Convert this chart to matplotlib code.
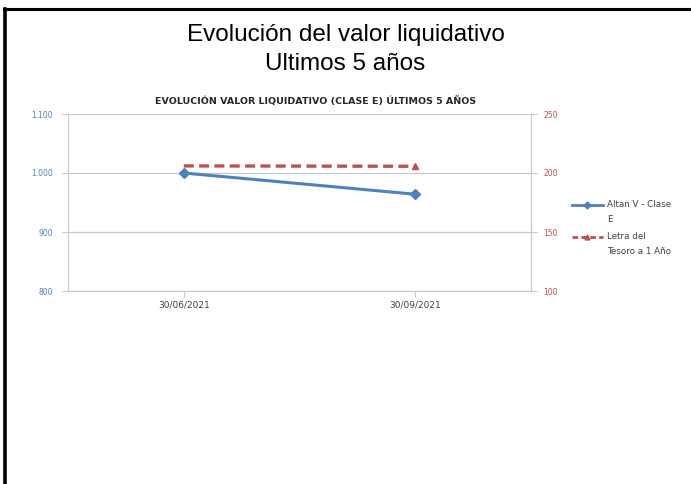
import matplotlib
matplotlib.use("Agg")
import matplotlib.pyplot as plt
from matplotlib.lines import Line2D

# datos
fechas = ["30/06/2021", "30/09/2021"]
altan_clase_e = [1000, 964]
letra_tesoro = [206, 205.7]
ticks_izq = [800, 900, 1000, 1100]
etiquetas_izq = ["800", "900", "1.000", "1.100"]
ticks_der = [100, 150, 200, 250]
series = ["Altan V - Clase\nE", "Letra del\nTesoro a 1 Año"]

AZUL = "#4F81BD"
ROJO = "#C0504D"
GRID = "#C8C8C8"
TXT = "#404040"
W, H = 691, 484

fig = plt.figure(figsize=(6.91, 4.84), dpi=100)

# marco negro (solo arriba e izquierda)
fig.add_artist(Line2D([4 / W, 1], [1 - 8.5 / H] * 2, color="black", lw=2.2,
                      transform=fig.transFigure))
fig.add_artist(Line2D([5 / W] * 2, [0, 1 - 8.5 / H], color="black", lw=2.6,
                      transform=fig.transFigure))

fig.text(0.5, 1 - 41 / H, "Evolución del valor liquidativo", ha="center", va="baseline",
         fontsize=17.5, family="Liberation Sans")
fig.text(0.5, 1 - 70 / H, "Ultimos 5 años", ha="center", va="baseline",
         fontsize=17.5, family="Liberation Sans")

ax = fig.add_axes([68 / W, 1 - 291 / H, 463 / W, 177 / H])
x = list(range(len(fechas)))
ax.plot(x, altan_clase_e, color=AZUL, lw=2.2, marker="D", ms=5.5, zorder=3)
ax.set_xlim(-0.5, len(fechas) - 0.5)
ax.set_ylim(800, 1100)
ax.set_yticks(ticks_izq)
ax.set_yticklabels(etiquetas_izq)
ax.set_xticks(x)
ax.set_xticklabels(fechas)
ax.grid(axis="y", color=GRID, lw=0.9)
ax.set_axisbelow(True)
ax.spines["top"].set_visible(False)
for s in ("left", "right", "bottom"):
    ax.spines[s].set_color(GRID)
ax.tick_params(axis="x", length=4, color=GRID, labelsize=6.5, labelcolor=TXT, pad=3)
ax.tick_params(axis="y", length=4, color=GRID, labelsize=5.5, labelcolor=AZUL, pad=7)

ax2 = ax.twinx()
ax2.plot(x, letra_tesoro, color=ROJO, lw=2.4, ls=(0, (3, 1.6)), marker="^", ms=4,
         markevery=[1], zorder=2)
ax2.set_ylim(100, 250)
ax2.set_yticks(ticks_der)
for s in ("top", "left", "bottom"):
    ax2.spines[s].set_visible(False)
ax2.spines["right"].set_color(GRID)
ax2.tick_params(axis="y", length=4, color=GRID, labelsize=5.5, labelcolor=ROJO, pad=5)

fig.text(316 / W, 1 - 101 / H, "EVOLUCIÓN VALOR LIQUIDATIVO (CLASE E) ÚLTIMOS 5 AÑOS",
         ha="center", va="center", fontsize=6.8, fontweight="bold", color="#262626")

# leyenda a mano: la muestra va alineada con la primera línea del texto, como en Excel
estilos = [dict(color=AZUL, lw=2, marker="D", ms=3.5, markevery=[1]),
           dict(color=ROJO, lw=2, ls=(0, (2, 1.2)), marker="^", ms=3.5, markevery=[1])]
for (etiqueta, estilo, y) in zip(series, estilos, [205, 237]):
    fig.add_artist(Line2D([572 / W, 587 / W, 603 / W], [1 - y / H] * 3,
                          transform=fig.transFigure, **estilo))
    fig.text(607 / W, 1 - (y - 5) / H, etiqueta, ha="left", va="top", fontsize=6.3,
             color=TXT, linespacing=1.9)

fig.savefig("out.png", dpi=100, facecolor="white")
